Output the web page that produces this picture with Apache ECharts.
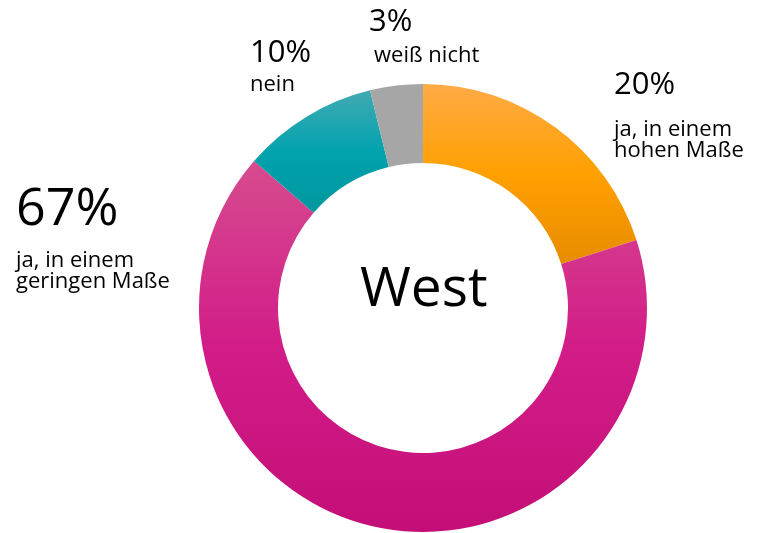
<!DOCTYPE html>
<html>
<head>
<meta charset="utf-8">
<script src="https://cdn.jsdelivr.net/npm/echarts@6/dist/echarts.min.js"></script>
<style>
  html, body { margin: 0; padding: 0; background: #fff; }
  #chart { width: 761px; height: 533px; }
</style>
</head>
<body>
<div id="chart"></div>
<script>
// Anteile, Reihenfolge im Uhrzeigersinn ab 12 Uhr
var names = ['ja, in einem\nhohen Maße', 'ja, in einem\ngeringen Maße', 'nein', 'weiß nicht'];
var values = [20.1, 66.3, 9.8, 3.8];
var shownPct = ['20%', '67%', '10%', '3%'];
var centerText = 'West';

// Farbverläufe je Segment (oben -> Mitte -> unten)
var colorTop = ['#ffab46', '#d64c8f', '#42a9b3', '#a6a6a6'];
var colorMid = ['#ffa000', '#d21c88', '#00a3ad', '#a6a6a6'];
var colorBottom = ['#e88c00', '#c40e77', '#00969e', '#a6a6a6'];

// Label-Platzierung (linke obere Ecke), Schriftgröße und Zeilenhöhe der Prozentzahl
var labelPos = [[614, 51], [16, 170], [250, 32], [369, -1]];
var pctSize = [31, 52, 31, 31];
var pctLine = [68, 80, 42, 46];

var font = '"Open Sans", "Segoe UI", sans-serif';
var myChart = echarts.init(document.getElementById('chart'));

var data = values.map(function (v, i) {
  return {
    name: names[i],
    value: v,
    itemStyle: {
      color: new echarts.graphic.LinearGradient(0, 0, 0, 1, [
        { offset: 0, color: colorTop[i] },
        { offset: 0.5, color: colorMid[i] },
        { offset: 1, color: colorBottom[i] }
      ])
    },
    label: {
      rich: {
        p: { fontSize: pctSize[i], lineHeight: pctLine[i], color: '#000', fontFamily: font },
        t: { fontSize: 22, lineHeight: 21, color: '#000', fontFamily: font, padding: i === 3 ? [0, 0, 0, 5] : 0 }
      }
    }
  };
});

var option = {
  animation: false,
  graphic: [{
    type: 'text',
    left: 360,
    top: 263,
    style: { text: centerText, fontSize: 55, fontFamily: font, fill: '#000' }
  }],
  series: [{
    type: 'pie',
    center: [423, 308],
    radius: [145, 224],
    startAngle: 90,
    clockwise: true,
    silent: true,
    data: data,
    labelLine: { show: false },
    label: {
      show: true,
      position: 'outside',
      formatter: function (p) {
        var lines = p.name.split('\n').map(function (s) { return '{t|' + s + '}'; });
        return '{p|' + shownPct[p.dataIndex] + '}\n' + lines.join('\n');
      }
    },
    labelLayout: function (params) {
      var pos = labelPos[params.dataIndex];
      return { x: pos[0], y: pos[1], align: 'left', verticalAlign: 'top', hideOverlap: false, moveOverlap: null };
    }
  }]
};

myChart.setOption(option);
</script>
</body>
</html>
